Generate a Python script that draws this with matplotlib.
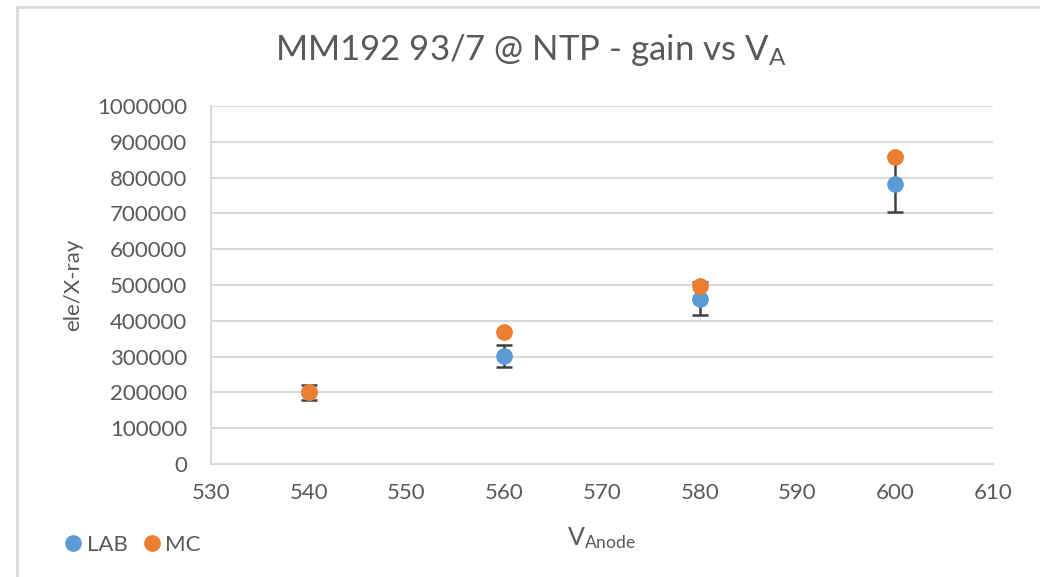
import matplotlib

matplotlib.use("agg")
import matplotlib.pyplot as plt
from matplotlib.lines import Line2D
from matplotlib.patches import Rectangle
from matplotlib.ticker import StrMethodFormatter

# anode voltage scan, gain in electrons per X-ray
v_anode = [540, 560, 580, 600]
gain_lab = [200000, 302000, 461000, 782000]
gain_lab_err = [20000, 30000, 46000, 78000]
gain_mc = [200000, 368000, 497000, 858000]

plt.rcParams["font.family"] = ["Lato", "DejaVu Sans"]
plt.rcParams["mathtext.fontset"] = "custom"
plt.rcParams["mathtext.rm"] = "Lato"
plt.rcParams["mathtext.it"] = "Lato"
text_col = "#595959"
grid_col = "#d9d9d9"
lab_col = "#5B9BD5"
mc_col = "#ED7D31"

fig = plt.figure(figsize=(10.4, 5.77), dpi=100)
fig.add_artist(Rectangle((17 / 1040, -0.05), 1.2, 1 - 7 / 577 + 0.05, transform=fig.transFigure,
                         fill=False, edgecolor=grid_col, linewidth=2))
ax = fig.add_axes([211 / 1040, 1 - 464 / 577, (993 - 211) / 1040, (464 - 106) / 577])

ax.errorbar(v_anode, gain_lab, yerr=gain_lab_err, fmt="o", color=lab_col, markersize=11,
            ecolor="#404040", elinewidth=1.8, capsize=6, capthick=1.8, zorder=3)
ax.plot(v_anode, gain_mc, "o", color=mc_col, markersize=11, zorder=4)

ax.set_xlim(530, 610)
ax.set_ylim(0, 1000000)
ax.set_xticks(range(530, 611, 10))
ax.set_yticks(range(0, 1000001, 100000))
ax.yaxis.set_major_formatter(StrMethodFormatter("{x:.0f}"))
ax.yaxis.grid(True, color=grid_col, linewidth=1.5)
ax.set_axisbelow(True)
for side in ["top", "right"]:
    ax.spines[side].set_visible(False)
for side in ["left", "bottom"]:
    ax.spines[side].set_color(grid_col)
    ax.spines[side].set_linewidth(1.5)
ax.tick_params(length=0, labelsize=16, labelcolor=text_col)
ax.tick_params(axis="x", pad=14)
ax.tick_params(axis="y", pad=17)

fig.text(531 / 1040, 1 - 50 / 577, r"MM192 93/7 @ NTP - gain vs $\mathregular{V_A}$",
         fontsize=25, color=text_col, ha="center", va="center")
fig.text(602 / 1040, 1 - 538 / 577, r"$\mathregular{V_{Anode}}$",
         fontsize=18, color=text_col, ha="center", va="center")
fig.text(73 / 1040, 1 - 285 / 577, "ele/X-ray", fontsize=16, color=text_col,
         ha="center", va="center", rotation=90)

handles = [Line2D([], [], marker="o", linestyle="", color=lab_col, markersize=11),
           Line2D([], [], marker="o", linestyle="", color=mc_col, markersize=11)]
fig.legend(handles, ["LAB", "MC"], loc="center left", bbox_to_anchor=(51 / 1040, 1 - 545 / 577),
           ncol=2, frameon=False, fontsize=16, labelcolor=text_col, handletextpad=0.0,
           columnspacing=0.5, handlelength=1.2, borderaxespad=0)

plt.savefig("out.png", dpi=100)
